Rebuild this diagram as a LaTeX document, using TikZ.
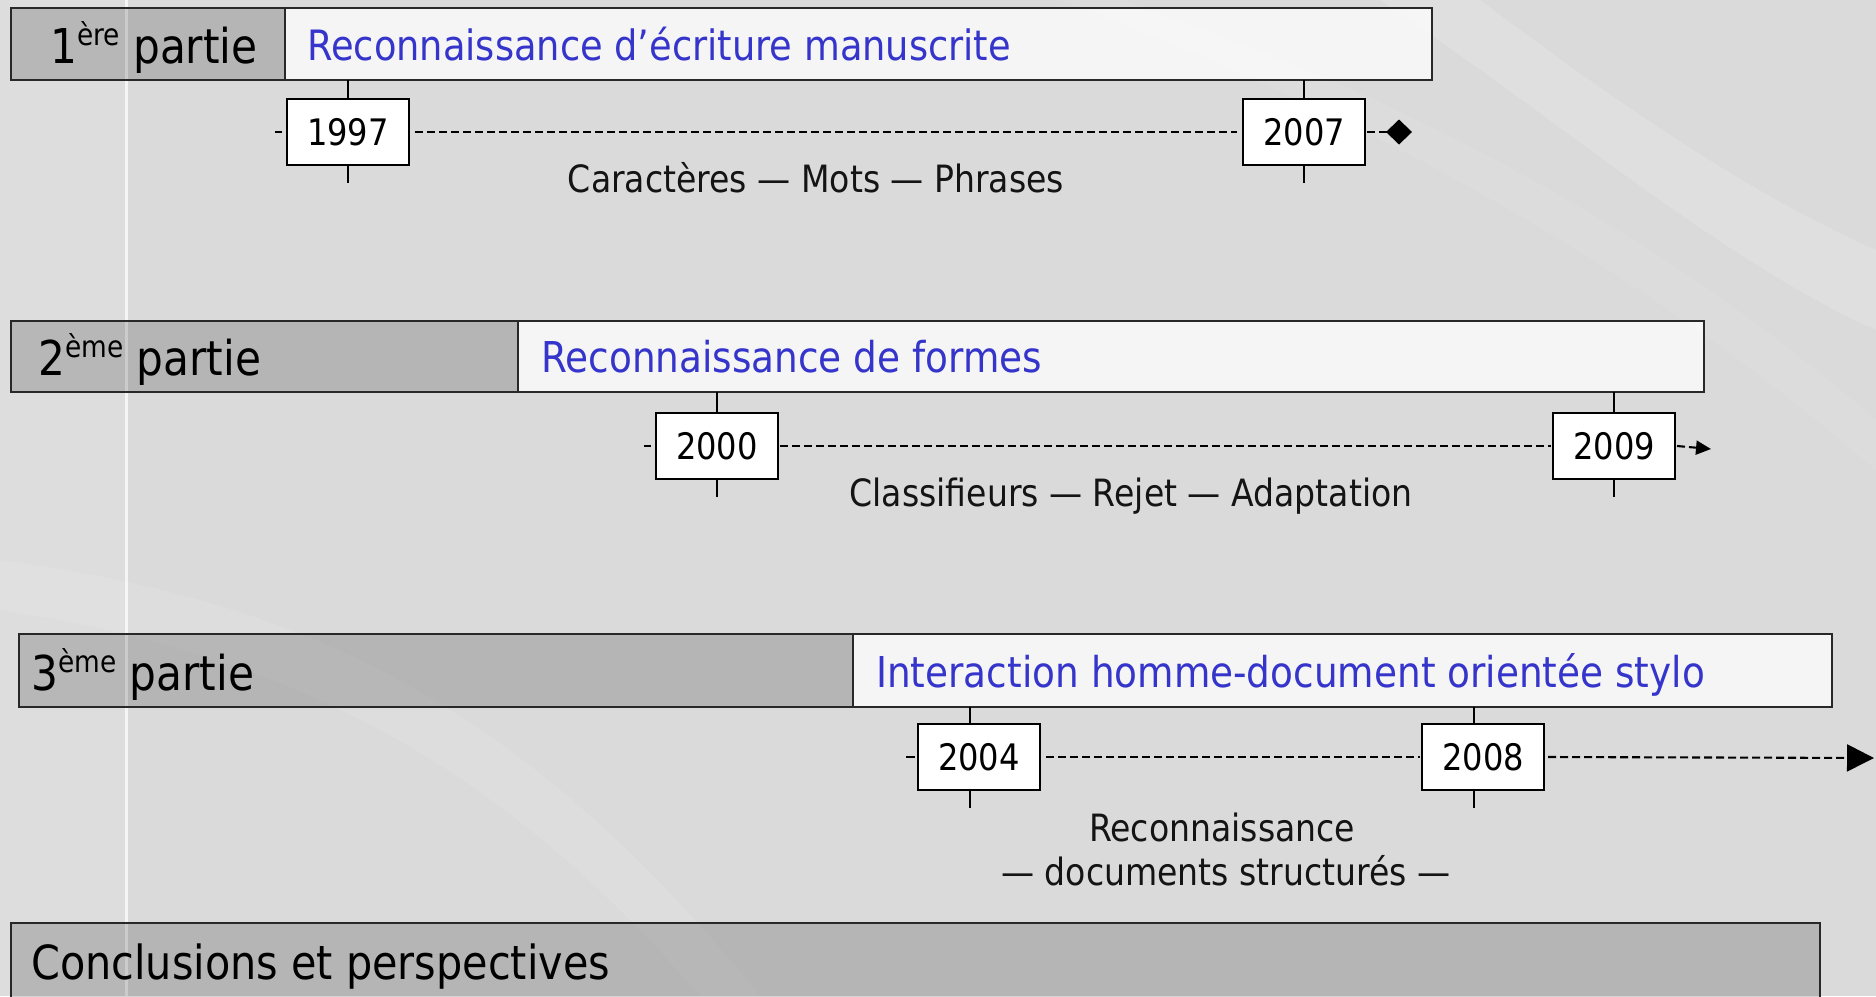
\documentclass[tikz,border=0pt]{standalone}
\usepackage{fontspec}
\setmainfont{DejaVu Sans}[FakeStretch=0.88]
\usetikzlibrary{arrows.meta}

\definecolor{bg}{HTML}{DADADA}
\definecolor{titleblue}{HTML}{3535CC}
\definecolor{edge}{HTML}{282828}

\newcommand\fsz[1]{\fontsize{#1pt}{#1pt}\selectfont}
\newcommand\expo[1]{\raisebox{0.36em}{\fsz{30}#1}}

\tikzset{
  partbox/.style={draw=edge, line width=1.5pt, fill=black, fill opacity=0.17,
    inner sep=0pt, outer sep=0pt, anchor=north west},
  titlebox/.style={draw=edge, line width=1.5pt, fill=white, fill opacity=0.75,
    inner sep=0pt, outer sep=0pt, anchor=north west},
  partlabel/.style={anchor=base west, inner sep=0pt, font=\fsz{48}, text=black},
  titlelabel/.style={anchor=base west, inner sep=0pt, font=\fsz{42.5}, text=titleblue},
  yearbox/.style={draw=black, line width=2pt, fill=white, minimum width=122pt,
    minimum height=66pt, inner sep=0pt, outer sep=0pt, font=\fsz{36.5}},
  caption/.style={anchor=base, inner sep=0pt, font=\fsz{37.6}, text=black!92},
  tick/.style={draw=black, line width=1.9pt},
  timeline/.style={draw=black, line width=2.1pt, dash pattern=on 8pt off 4pt},
}

\begin{document}
\begin{tikzpicture}[x=1pt, y=-1pt]
\useasboundingbox (0,0) rectangle (1876,996);

% backdrop
\fill[bg] (0,0) rectangle (1876,996);
\fill[white, opacity=0.10] (0,0) rectangle (125,996);
\fill[white, opacity=0.14] (1380,0) .. controls (1560,120) and (1720,260) .. (1876,330)
  -- (1876,250) .. controls (1740,190) and (1600,90) .. (1480,0) -- cycle;
\fill[white, opacity=0.08] (1120,0) .. controls (1300,60) and (1600,180) .. (1876,420)
  -- (1876,470) .. controls (1600,230) and (1300,90) .. (1060,0) -- cycle;
\fill[white, opacity=0.09] (0,560) .. controls (300,600) and (520,700) .. (760,996)
  -- (700,996) .. controls (480,740) and (260,650) .. (0,610) -- cycle;
\fill[white, opacity=0.75] (125,0) rectangle (128,996);

% ---------- part 1 ----------
\node[partbox, minimum width=274pt, minimum height=72pt] (p1) at (11,8) {};
\node[titlebox, minimum width=1147pt, minimum height=72pt] (t1) at (285,8) {};
\node[partlabel] (l1) at (50,63) {1\expo{ère} partie};
\node[titlelabel, font=\fsz{41.8}] (h1) at (307,60) {Reconnaissance d’écriture manuscrite};

\node[yearbox] (y1997) at (348,132) {1997};
\node[yearbox] (y2007) at (1304,132) {2007};
\coordinate (e1) at (1412,132);

\draw[tick] (y1997.north) -- (y1997.north |- t1.south);
\draw[tick] (y1997.south) -- ++(0,18);
\draw[tick] (y2007.north) -- (y2007.north |- t1.south);
\draw[tick] (y2007.south) -- ++(0,18);
\draw[tick] ([xshift=-12pt]y1997.west) -- ([xshift=-5pt]y1997.west);
\draw[timeline] ([xshift=6pt]y1997.east) -- ([xshift=-6pt]y2007.west);
\draw[timeline, -{Diamond[length=26pt, width=25pt]}] ([xshift=2pt]y2007.east) -- (e1);

\node[caption] (c1) at (816,192) {Caractères — Mots — Phrases};

% ---------- part 2 ----------
\node[partbox, minimum width=507pt, minimum height=71pt] (p2) at (11,321) {};
\node[titlebox, minimum width=1186pt, minimum height=71pt] (t2) at (518,321) {};
\node[partlabel] (l2) at (38,375) {2\expo{ème} partie};
\node[titlelabel] (h2) at (541,372) {Reconnaissance de formes};

\node[yearbox] (y2000) at (717,446) {2000};
\node[yearbox] (y2009) at (1614,446) {2009};
\coordinate (e2) at (1711,449);

\draw[tick] (y2000.north) -- (y2000.north |- t2.south);
\draw[tick] (y2000.south) -- ++(0,18);
\draw[tick] (y2009.north) -- (y2009.north |- t2.south);
\draw[tick] (y2009.south) -- ++(0,18);
\draw[tick] ([xshift=-12pt]y2000.west) -- ([xshift=-5pt]y2000.west);
\draw[timeline] ([xshift=2pt]y2000.east) -- ([xshift=-2pt]y2009.west);
\draw[timeline, -{Triangle[length=15pt, width=14pt]}] ([xshift=2pt]y2009.east) -- (e2);

\node[caption] (c2) at (1131,506) {Classifieurs — Rejet — Adaptation};

% ---------- part 3 ----------
\node[partbox, minimum width=834pt, minimum height=73pt] (p3) at (19,634) {};
\node[titlebox, minimum width=979pt, minimum height=73pt] (t3) at (853,634) {};
\node[partlabel] (l3) at (31,690) {3\expo{ème} partie};
\node[titlelabel] (h3) at (876,687) {Interaction homme-document orientée stylo};

\node[yearbox] (y2004) at (979,757) {2004};
\node[yearbox] (y2008) at (1483,757) {2008};
\coordinate (e3) at (1874,758);

\draw[tick] ([xshift=-9pt]y2004.north) -- ([xshift=-9pt]y2004.north |- t3.south);
\draw[tick] ([xshift=-9pt]y2004.south) -- ++(0,18);
\draw[tick] ([xshift=-9pt]y2008.north) -- ([xshift=-9pt]y2008.north |- t3.south);
\draw[tick] ([xshift=-9pt]y2008.south) -- ++(0,18);
\draw[tick] ([xshift=-12pt]y2004.west) -- ([xshift=-3pt]y2004.west);
\draw[timeline] ([xshift=6pt]y2004.east) -- ([xshift=-2pt]y2008.west);
\draw[timeline, -{Triangle[length=27pt, width=27pt]}] ([xshift=4pt]y2008.east) -- (e3);

\node[caption] (c3a) at (1222,841) {Reconnaissance};
\node[caption] (c3b) at (1226,885) {— documents structurés —};

% ---------- conclusion ----------
\node[partbox, minimum width=1809pt, minimum height=100pt] (p4) at (11,923) {};
\node[partlabel, font=\fsz{47}] (l4) at (31,979) {Conclusions et perspectives};

\end{tikzpicture}
\end{document}
